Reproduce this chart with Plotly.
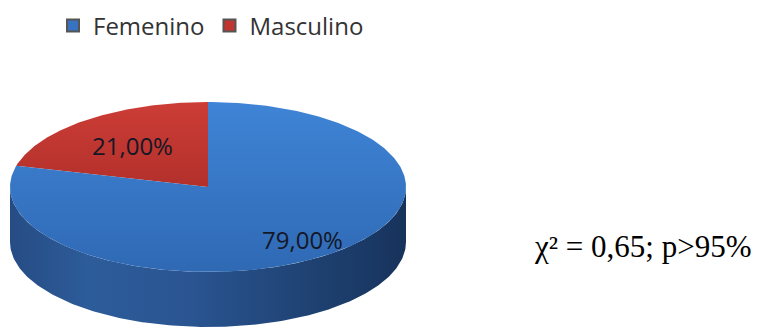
import numpy as np
import plotly.graph_objects as go

# ---- data ----
labels = ["Femenino", "Masculino"]
values = [79.0, 21.0]
pct_text = ["79,00%", "21,00%"]
stat_text = "χ² = 0,65; p>95%"

# ---- style ----
top_colors = {"Femenino": "#3b7acb", "Masculino": "#c93a33"}
top_grad = {
    "Femenino": [[0, "#2f69b4"], [1, "#3f84d6"]],
    "Masculino": [[0, "#b3302b"], [1, "#cc3d36"]],
}
side_grad = {
    "Femenino": [[0, "#264c84"], [0.2, "#2d5c9a"], [0.45, "#2a5592"], [0.75, "#1f4273"], [1, "#17335c"]],
    "Masculino": [[0, "#8a2420"], [1, "#5e1815"]],
}
legend_colors = {"Femenino": "#3773c0", "Masculino": "#c03530"}
label_r = {"Femenino": 0.78, "Masculino": 0.62}

W, H = 757, 331
cx, cy, rx, ry, depth = 208, 187, 198, 85, 55


def pt(t_deg, dy=0.0):
    t = np.radians(t_deg)
    return cx + rx * np.cos(t), cy - ry * np.sin(t) + dy


fig = go.Figure()

order = ["Masculino", "Femenino"]
total = sum(values)
vals = dict(zip(labels, values))
texts = dict(zip(labels, pct_text))

angles = {}
start = 90.0
for name in order:
    end = start + 360.0 * vals[name] / total
    angles[name] = (start, end)
    start = end

# side walls
for name in order:
    s, e = angles[name]
    for k in range(0, 3):
        lo = max(s, 180 + 360 * k)
        hi = min(e, 360 + 360 * k)
        if hi <= lo:
            continue
        ts = np.linspace(lo, hi, 200)
        xs_top, ys_top = pt(ts)
        xs_bot, ys_bot = pt(ts[::-1], depth)
        xs = np.concatenate([xs_top, xs_bot])
        ys = np.concatenate([ys_top, ys_bot])
        fig.add_trace(go.Scatter(
            x=xs, y=ys, mode="lines", fill="toself",
            line=dict(width=0, color=top_colors[name]),
            fillgradient=dict(type="horizontal", colorscale=side_grad[name]),
            showlegend=False, hoverinfo="skip"))

# top faces
for name in order:
    s, e = angles[name]
    ts = np.linspace(s, e, 300)
    xs, ys = pt(ts)
    xs = np.concatenate([[cx], xs, [cx]])
    ys = np.concatenate([[cy], ys, [cy]])
    fig.add_trace(go.Scatter(
        x=xs, y=ys, mode="lines", fill="toself",
        line=dict(width=0, color=top_colors[name]),
        fillgradient=dict(type="vertical", colorscale=top_grad[name]),
        showlegend=False, hoverinfo="skip"))

# percentage labels
for name in order:
    s, e = angles[name]
    m = np.radians((s + e) / 2)
    r = label_r[name]
    fig.add_annotation(x=cx + rx * r * np.cos(m), y=cy - ry * r * np.sin(m),
                       text=texts[name], showarrow=False,
                       font=dict(family="Open Sans", size=24, color="#141826"))

# legend entries
for name in labels:
    fig.add_trace(go.Scatter(
        x=[None], y=[None], mode="markers", name=name,
        marker=dict(symbol="square", size=13, color=legend_colors[name],
                    line=dict(width=1, color="#555555"))))

fig.add_annotation(x=642, y=246, text=stat_text, showarrow=False,
                   font=dict(family="Liberation Serif", size=31, color="#000000"))

fig.update_layout(
    width=W, height=H, margin=dict(l=0, r=0, t=0, b=0),
    paper_bgcolor="white", plot_bgcolor="white",
    xaxis=dict(range=[0, W], visible=False, fixedrange=True),
    yaxis=dict(range=[H, 0], visible=False, fixedrange=True),
    legend=dict(orientation="h", x=0.07, y=0.99, xanchor="left", yanchor="top",
                font=dict(family="Open Sans", size=24, color="#333333"),
                bgcolor="rgba(0,0,0,0)", itemsizing="constant", itemwidth=30),
)

fig.write_html("out.html")
